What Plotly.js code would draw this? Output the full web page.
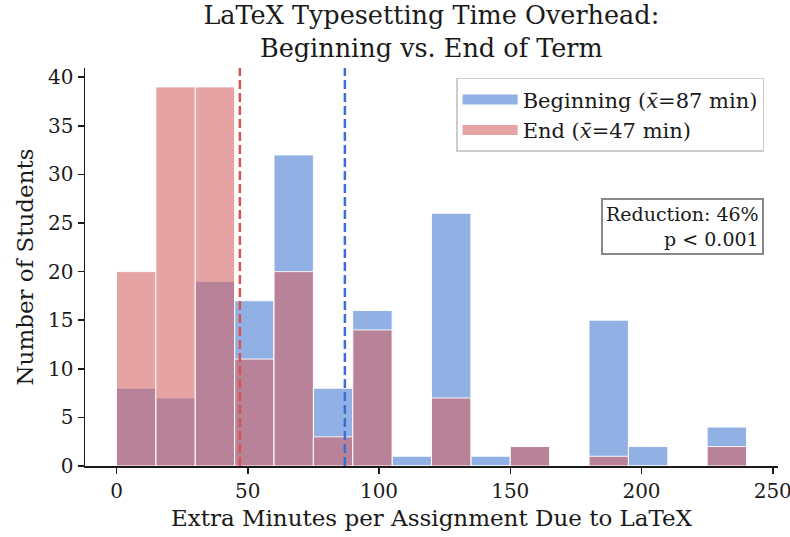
<!DOCTYPE html>
<html>
<head>
<meta charset="utf-8">
<script src="https://cdn.plot.ly/plotly-3.0.1.min.js"></script>
<style>html,body{margin:0;padding:0;background:#fff;}#chart{width:790px;height:537px;}</style>
</head>
<body>
<div id="chart"></div>
<script>
// Bin centers (bin width 15 minutes, from 0 to 240)
const binCenters = [7.5, 22.5, 37.5, 52.5, 67.5, 82.5, 97.5, 112.5, 127.5, 142.5, 157.5, 172.5, 187.5, 202.5, 217.5, 232.5];
const beginningCounts = [8, 7, 19, 17, 32, 8, 16, 1, 26, 1, 2, 0, 15, 2, 0, 4];
const endCounts = [20, 39, 39, 11, 20, 3, 14, 0, 7, 0, 2, 0, 1, 0, 0, 2];
const beginningMean = 87;
const endMean = 47;
const xTicks = [0, 50, 100, 150, 200, 250];
const yTicks = [0, 5, 10, 15, 20, 25, 30, 35, 40];

const FONT = 'DejaVu Serif, serif';
const BLUE = 'rgba(72,123,210,0.6)';
const RED = 'rgba(212,97,97,0.58)';

const traces = [
  {
    type: 'bar', x: binCenters, y: beginningCounts, width: 15, showlegend: false,
    marker: {color: BLUE, line: {color: 'rgba(255,255,255,0.9)', width: 1}}
  },
  {
    type: 'bar', x: binCenters, y: endCounts, width: 15, showlegend: false,
    marker: {color: RED, line: {color: 'rgba(255,255,255,0.9)', width: 1}}
  },
  // legend entries (rectangular patches)
  {
    type: 'scatter', mode: 'lines', x: [null], y: [null],
    name: 'Beginning (<i>x̄</i>=' + beginningMean + ' min)',
    line: {color: BLUE, width: 15}
  },
  {
    type: 'scatter', mode: 'lines', x: [null], y: [null],
    name: 'End (<i>x̄</i>=' + endMean + ' min)',
    line: {color: RED, width: 15}
  }
];

const layout = {
  width: 790, height: 537,
  margin: {l: 85, r: 12, t: 68, b: 71},
  paper_bgcolor: '#fff', plot_bgcolor: '#fff',
  barmode: 'overlay', bargap: 0,
  font: {family: FONT, color: '#1a1a1a', size: 20},
  title: {
    text: 'LaTeX Typesetting Time Overhead:<br>Beginning vs. End of Term',
    font: {family: FONT, size: 25.5, color: '#1a1a1a'},
    x: 0.546, xanchor: 'center', yref: 'container', y: 0.955, yanchor: 'top'
  },
  xaxis: {
    range: [-12, 252], tickvals: xTicks, ticktext: xTicks.map(String),
    showgrid: false, zeroline: false, showline: true, linecolor: '#1a1a1a', linewidth: 1.5,
    ticks: 'outside', ticklen: 6, tickwidth: 1.5, tickcolor: '#1a1a1a',
    tickfont: {family: FONT, size: 20}, ticklabeloverflow: 'allow',
    title: {text: 'Extra Minutes per Assignment Due to LaTeX', font: {family: FONT, size: 23}, standoff: 8}
  },
  yaxis: {
    range: [0, 40.95], tickvals: yTicks, ticktext: yTicks.map(String),
    showgrid: false, zeroline: false, showline: true, linecolor: '#1a1a1a', linewidth: 1.5,
    ticks: 'outside', ticklen: 6, tickwidth: 1.5, tickcolor: '#1a1a1a',
    tickfont: {family: FONT, size: 20},
    title: {text: 'Number of Students', font: {family: FONT, size: 23}, standoff: 8}
  },
  showlegend: true,
  legend: {
    x: 0.98, xanchor: 'right', y: 0.975, yanchor: 'top',
    bgcolor: 'rgba(255,255,255,0.8)', bordercolor: '#cccccc', borderwidth: 1.5,
    font: {family: FONT, size: 21, color: '#1a1a1a'},
    traceorder: 'normal', itemwidth: 55
  },
  shapes: [
    {type: 'line', xref: 'x', yref: 'paper', x0: endMean, x1: endMean, y0: 0, y1: 1,
     line: {color: '#d9534f', width: 2.5, dash: '9px,4px'}},
    {type: 'line', xref: 'x', yref: 'paper', x0: beginningMean, x1: beginningMean, y0: 0, y1: 1,
     line: {color: '#3b6fd1', width: 2.5, dash: '9px,4px'}}
  ],
  annotations: [
    {
      xref: 'paper', yref: 'paper', x: 0.98, y: 0.603, xanchor: 'right', yanchor: 'middle',
      text: 'Reduction: 46%<br>p &lt; 0.001', align: 'right', showarrow: false,
      font: {family: FONT, size: 19, color: '#1a1a1a'},
      bgcolor: '#ffffff', bordercolor: '#888888', borderwidth: 2, borderpad: 3
    }
  ]
};

Plotly.newPlot('chart', traces, layout, {displayModeBar: false, staticPlot: true});
</script>
</body>
</html>
